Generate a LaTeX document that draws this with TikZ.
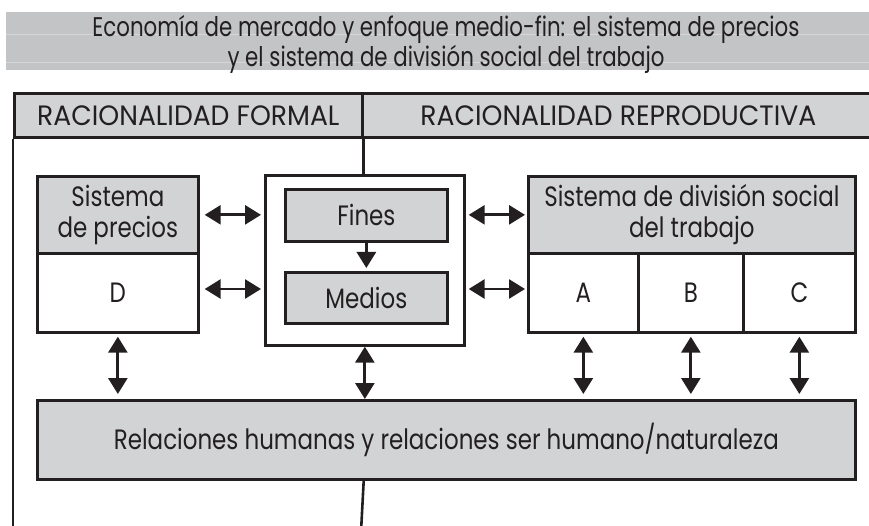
\documentclass[tikz,border=0pt]{standalone}
\usepackage{fontspec}
\setmainfont{Poppins}[FakeStretch=0.82]
\newfontfamily\capsfont{Poppins}[FakeStretch=0.95]
\newfontfamily\titlefont{Poppins}[FakeStretch=0.79]
\usetikzlibrary{arrows.meta}
\definecolor{ink}{HTML}{231F20}
\definecolor{boxgray}{HTML}{D1D3D4}
\definecolor{bandgray}{HTML}{C2C4C6}
\definecolor{bandline}{HTML}{D4D6D8}
\begin{document}
\begin{tikzpicture}[x=1pt,y=-1pt,
  gbox/.style={draw=ink, line width=2.7pt, fill=boxgray, inner sep=0pt, align=center, text=ink, anchor=north west,
    font=\fontsize{28}{31}\selectfont},
  wbox/.style={gbox, fill=white},
  hbox/.style={gbox, font=\capsfont\fontsize{28}{31}\selectfont},
  frameline/.style={draw=ink, line width=2.6pt},
  dbl/.style={draw=ink, line width=2.8pt, {Triangle[length=16pt,width=19pt]}-{Triangle[length=16pt,width=19pt]}},
  sgl/.style={draw=ink, line width=2.8pt, -{Triangle[length=16pt,width=19pt]}}]
\useasboundingbox (0,0) rectangle (869,526);
% title band
\node[fill=bandgray, minimum width=875pt, minimum height=58pt, inner sep=0pt, anchor=north west] (title) at (6,12) {};
\draw[bandline, line width=1pt] (title.west |- 0,35) -- (title.east |- 0,35);
\draw[bandline, line width=1pt] (title.west |- 0,63) -- (title.east |- 0,63);
\node[align=center, text=ink, inner sep=0pt, font=\titlefont\fontsize{27}{30}\selectfont] (titletext) at (446,44)
  {Economía de mercado y enfoque medio-fin: el sistema de precios\\y el sistema de división social del trabajo};
% header (runs off the right edge)
\node[hbox, minimum width=348pt, minimum height=44pt] (hF) at (13,92) {RACIONALIDAD FORMAL};
\node[hbox, minimum width=512pt, minimum height=44pt] (hR) at (361,92) {RACIONALIDAD REPRODUCTIVA};
\coordinate (leftend) at (13,532);
\coordinate (midend) at (361,532);
% boxes
\node[gbox, minimum width=161pt, minimum height=77pt] (precH) at (36,175) {Sistema\\de precios};
\node[wbox, minimum width=161pt, minimum height=79pt] (precD) at (36,252) {D};
\node[wbox, minimum width=199pt, minimum height=170pt] (mid) at (264,174) {};
\node[gbox, minimum width=162pt, minimum height=52pt] (fines) at (284,188) {Fines};
\node[gbox, minimum width=162pt, minimum height=51pt] (medios) at (284,271) {Medios};
\node[gbox, minimum width=327pt, minimum height=77pt] (divH) at (527,175) {Sistema de división social\\del trabajo};
\node[wbox, minimum width=110pt, minimum height=79pt] (cA) at (527,252) {A};
\node[wbox, minimum width=105pt, minimum height=79pt] (cB) at (637,252) {B};
\node[wbox, minimum width=112pt, minimum height=79pt] (cC) at (742,252) {C};
\node[gbox, minimum width=818pt, minimum height=79pt] (rel) at (36,399) {Relaciones humanas y relaciones ser humano/naturaleza};
% frame lines
\draw[frameline] (hF.south west) -- (leftend);
\draw[frameline] (hF.south east) -- (hF.south east |- mid.north);
\draw[frameline] (rel.south -| hF.south east) -- (midend);
% arrows
\draw[dbl] ([xshift=5pt]precH.east) -- ([xshift=-3pt]mid.west |- precH.east);
\draw[dbl] ([xshift=5pt]precD.east |- 0,289) -- ([xshift=-3pt]mid.west |- 0,289);
\draw[dbl] ([xshift=3pt]mid.east |- divH.west) -- ([xshift=-2pt]divH.west);
\draw[dbl] ([xshift=3pt]mid.east |- 0,289) -- ([xshift=-2pt]cA.west |- 0,289);
\draw[sgl] (fines.south) -- ([yshift=3pt]medios.north);
\draw[dbl] ([yshift=-3pt]precD.south) -- ([yshift=5pt]rel.north -| precD.south);
\draw[dbl] (mid.south) -- (rel.north -| mid.south);
\draw[dbl] ([yshift=-3pt]cA.south) -- ([yshift=5pt]rel.north -| cA.south);
\draw[dbl] ([yshift=-3pt]cB.south) -- ([yshift=5pt]rel.north -| cB.south);
\draw[dbl] ([yshift=-3pt]cC.south) -- ([yshift=5pt]rel.north -| cC.south);
\end{tikzpicture}
\end{document}
